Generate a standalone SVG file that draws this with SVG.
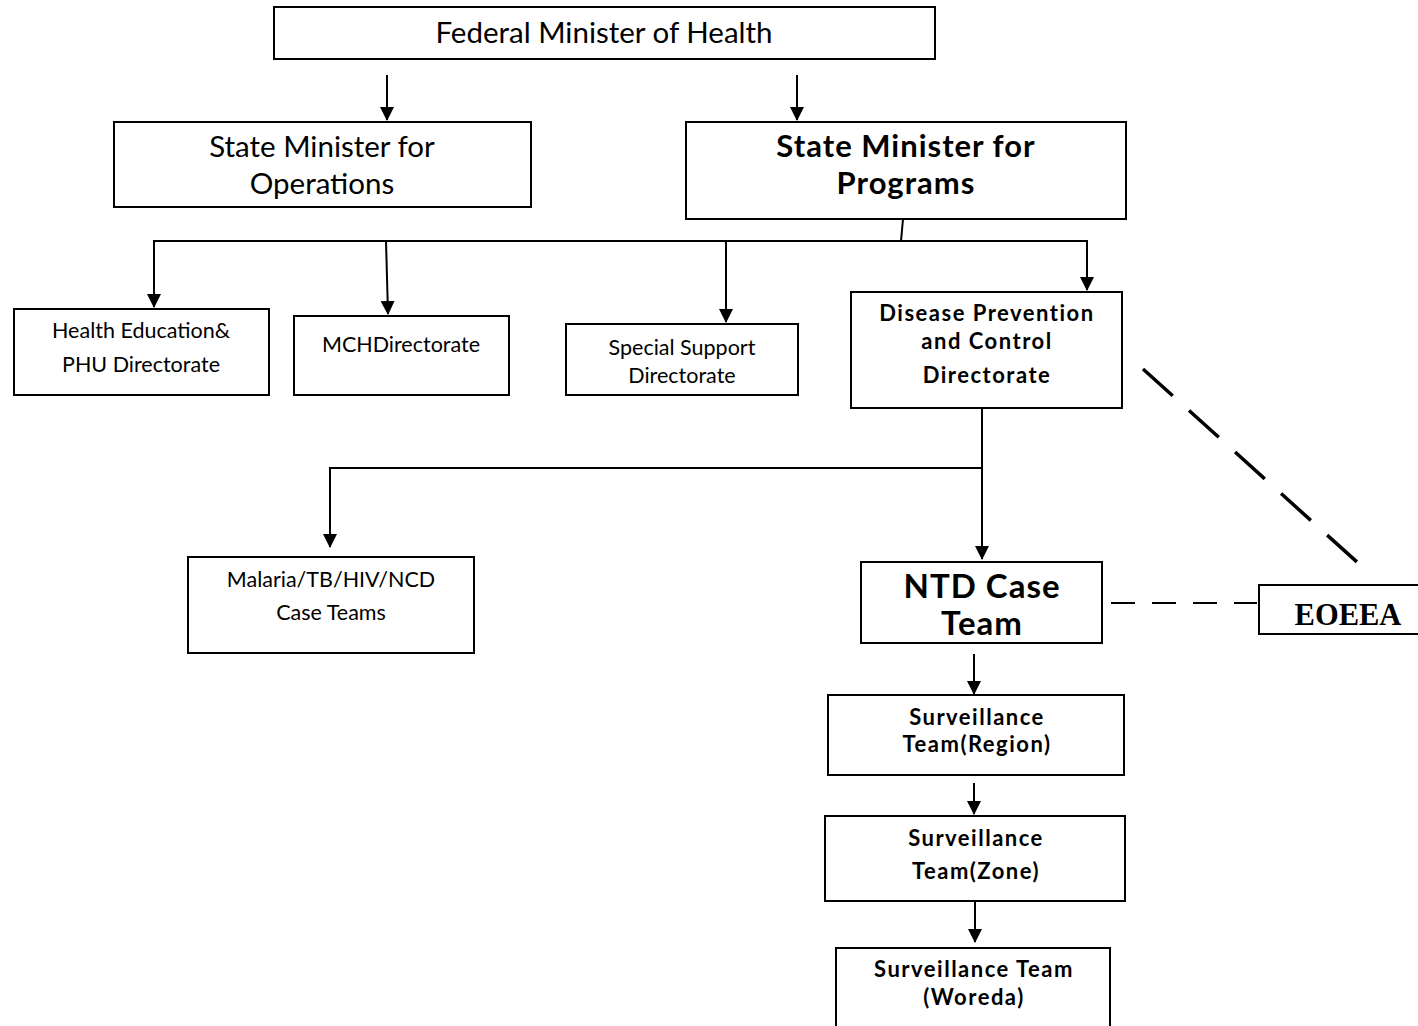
<svg xmlns="http://www.w3.org/2000/svg" width="1418" height="1026" viewBox="0 0 1418 1026">
<style>
.box{fill:#fff;stroke:#000;stroke-width:2}
.t{font-family:Lato,"Open Sans","Liberation Sans",sans-serif;fill:#000;text-anchor:middle}
.s{font-size:21.5px}
.b{font-weight:bold}
.bs{font-weight:bold;font-size:22px;letter-spacing:1.5px}
.ln{fill:none;stroke:#000;stroke-width:2}
.dash{fill:none;stroke:#000;stroke-width:2;stroke-dasharray:24,17}
.dash2{fill:none;stroke:#000;stroke-width:3.5;stroke-dasharray:40,22}
</style>
<defs>
<marker id="ah" markerUnits="userSpaceOnUse" markerWidth="14" markerHeight="16" refX="13" refY="7" orient="auto">
<path d="M0,0 L14,7 L0,14 Z" fill="#000"/>
</marker>
</defs>
<rect width="1418" height="1026" fill="#fff"/>
<g id="connectors">
<line class="ln" x1="387" y1="75" x2="387" y2="120" marker-end="url(#ah)"/>
<line class="ln" x1="797" y1="75" x2="797" y2="120" marker-end="url(#ah)"/>
<polyline class="ln" points="903,219 901,241"/>
<line class="ln" x1="153" y1="241" x2="1088" y2="241"/>
<line class="ln" x1="154" y1="241" x2="154" y2="307" marker-end="url(#ah)"/>
<line class="ln" x1="386" y1="241" x2="388" y2="314" marker-end="url(#ah)"/>
<line class="ln" x1="726" y1="241" x2="726" y2="322" marker-end="url(#ah)"/>
<line class="ln" x1="1087" y1="241" x2="1087" y2="290" marker-end="url(#ah)"/>
<line class="ln" x1="982" y1="408" x2="982" y2="559" marker-end="url(#ah)"/>
<polyline class="ln" points="982,468 330,468 330,547" marker-end="url(#ah)"/>
<line class="dash" x1="1111" y1="603" x2="1257" y2="603"/>
<line class="dash2" x1="1143" y1="369" x2="1357" y2="562"/>
<line class="ln" x1="974" y1="654" x2="974" y2="694" marker-end="url(#ah)"/>
<line class="ln" x1="974" y1="783" x2="974" y2="814" marker-end="url(#ah)"/>
<line class="ln" x1="975" y1="901" x2="975" y2="942" marker-end="url(#ah)"/>
</g>
<g id="federal">
<rect class="box" x="274" y="7" width="661" height="52"/>
<text class="t" x="604" y="43" font-size="29.5">Federal Minister of Health</text>
</g>
<g id="operations">
<rect class="box" x="114" y="122" width="417" height="85"/>
<text class="t" x="322" y="157" font-size="29.5">State Minister for</text>
<text class="t" x="322" y="194" font-size="29.5">Operations</text>
</g>
<g id="programs">
<rect class="box" x="686" y="122" width="440" height="97"/>
<text class="t b" x="906" y="157" font-size="31" letter-spacing="1">State Minister for</text>
<text class="t b" x="906" y="194" font-size="31" letter-spacing="1">Programs</text>
</g>
<g id="healthedu">
<rect class="box" x="14" y="309" width="255" height="86"/>
<text class="t s" x="141" y="338">Health Education&amp;</text>
<text class="t s" x="141" y="372">PHU Directorate</text>
</g>
<g id="mch">
<rect class="box" x="294" y="316" width="215" height="79"/>
<text class="t s" x="401" y="352">MCHDirectorate</text>
</g>
<g id="special">
<rect class="box" x="566" y="324" width="232" height="71"/>
<text class="t s" x="682" y="355">Special Support</text>
<text class="t s" x="682" y="383">Directorate</text>
</g>
<g id="disease">
<rect class="box" x="851" y="292" width="271" height="116"/>
<text class="t bs" x="987" y="321">Disease Prevention</text>
<text class="t bs" x="987" y="349">and Control</text>
<text class="t bs" x="987" y="383">Directorate</text>
</g>
<g id="malaria">
<rect class="box" x="188" y="557" width="286" height="96"/>
<text class="t s" x="331" y="587">Malaria/TB/HIV/NCD</text>
<text class="t s" x="331" y="620">Case Teams</text>
</g>
<g id="ntd">
<rect class="box" x="861" y="562" width="241" height="81"/>
<text class="t b" x="982" y="598" font-size="33" letter-spacing="1">NTD Case</text>
<text class="t b" x="982" y="635" font-size="33" letter-spacing="1">Team</text>
</g>
<g id="eoeea">
<rect class="box" x="1259" y="585" width="165" height="49"/>
<text x="1348" y="625" font-size="30.5" font-weight="bold" text-anchor="middle" font-family="'Liberation Serif',serif">EOEEA</text>
</g>
<g id="region">
<rect class="box" x="828" y="695" width="296" height="80"/>
<text class="t bs" x="977" y="725">Surveillance</text>
<text class="t bs" x="977" y="752">Team(Region)</text>
</g>
<g id="zone">
<rect class="box" x="825" y="816" width="300" height="85"/>
<text class="t bs" x="976" y="846">Surveillance</text>
<text class="t bs" x="976" y="879">Team(Zone)</text>
</g>
<g id="woreda">
<rect class="box" x="836" y="948" width="274" height="90"/>
<text class="t bs" x="974" y="977">Surveillance Team</text>
<text class="t bs" x="974" y="1005">(Woreda)</text>
</g>
</svg>
